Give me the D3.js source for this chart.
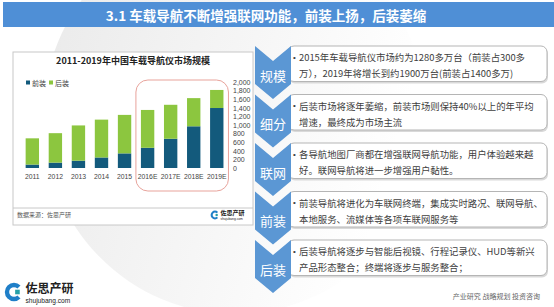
<!DOCTYPE html>
<html>
<head>
<meta charset="utf-8">
<script src="https://cdn.jsdelivr.net/npm/d3@7"></script>
<style>
  body { margin: 0; background: #fff; }
  svg { display: block; font-family: "Noto Sans CJK SC", "Noto Sans", sans-serif; }
</style>
</head>
<body>
<div id="chart"></div>
<script>
// chart data
var years = ["2011", "2012", "2013", "2014", "2015", "2016E", "2017E", "2018E", "2019E"];
var frontValues = [80, 125, 170, 245, 340, 470, 680, 970, 1395];
var backValues = [610, 685, 820, 880, 895, 880, 790, 655, 420];
var yTicks = [0, 200, 400, 600, 800, 1000, 1200, 1400, 1600, 1800, 2000];
var seriesNames = ["前装", "后装"];

// right side text
var sideLabels = ["规模", "细分", "联网", "前装", "后装"];
var sideLines = [
  ["2015年车载导航仪市场约为1280多万台（前装占300多", "万），2019年将增长到约1900万台(前装占1400多万)"],
  ["后装市场将逐年萎缩，前装市场则保持40%以上的年平均", "增速，最终成为市场主流"],
  ["各导航地图厂商都在增强联网导航功能，用户体验越来越", "好。联网导航将进一步增强用户黏性。"],
  ["前装导航将进化为车联网终端，集成实时路况、联网导航、", "本地服务、流媒体等各项车联网服务等"],
  ["后装导航将逐步与智能后视镜、行程记录仪、HUD等新兴", "产品形态整合；终端将逐步与服务整合；"]
];

var svgWidth = 554;
var svgHeight = 307;
var frontColor = "#135a7c";
var backColor = "#8cc63f";
var blue = "#5b97d4";

var svg = d3.select("#chart")
  .append("svg")
  .attr("width", svgWidth)
  .attr("height", svgHeight);

// background swoosh
var defs = svg.append("defs");
var grad = defs.append("linearGradient")
  .attr("id", "swoosh")
  .attr("x1", "0").attr("y1", "0").attr("x2", "1").attr("y2", "0.3");
grad.append("stop").attr("offset", "0").attr("stop-color", "#e9e9e9");
grad.append("stop").attr("offset", "1").attr("stop-color", "#ffffff");

svg.append("ellipse")
  .attr("cx", 235).attr("cy", 118)
  .attr("rx", 192).attr("ry", 196)
  .attr("fill", "url(#swoosh)");

// title banner
svg.append("rect")
  .attr("x", 3).attr("y", 2)
  .attr("width", svgWidth - 3).attr("height", 25)
  .attr("fill", "#4f8fd6");

svg.append("text")
  .attr("x", 266).attr("y", 15)
  .attr("text-anchor", "middle")
  .attr("dominant-baseline", "central")
  .attr("fill", "#fff")
  .attr("font-size", 13.5)
  .attr("font-weight", "bold")
  .text("3.1 车载导航不断增强联网功能，前装上扬，后装萎缩");

// chart panel
svg.append("rect")
  .attr("x", 13).attr("y", 52)
  .attr("width", 240).attr("height", 173)
  .attr("fill", "#fff")
  .attr("stroke", "#c8c8c8")
  .attr("stroke-width", 1);

svg.append("line")
  .attr("x1", 13).attr("x2", 253)
  .attr("y1", 208).attr("y2", 208)
  .attr("stroke", "#c8c8c8");

svg.append("text")
  .attr("x", 133).attr("y", 60)
  .attr("text-anchor", "middle")
  .attr("dominant-baseline", "central")
  .attr("font-size", 9)
  .attr("font-weight", "bold")
  .attr("fill", "#222")
  .text("2011-2019年中国车载导航仪市场规模");

svg.append("text")
  .attr("x", 17).attr("y", 214)
  .attr("dominant-baseline", "central")
  .attr("font-size", 6)
  .attr("fill", "#555")
  .text("数据来源：佐思产研");

// scales
var xScale = d3.scaleBand()
  .domain(years)
  .range([20.8, 228.3])
  .paddingInner(0.42)
  .paddingOuter(0.21);

var yScale = d3.scaleLinear()
  .domain([0, 2000])
  .range([168, 82]);

// highlight of forecast years
svg.append("rect")
  .attr("x", xScale("2016E") - 5)
  .attr("y", 80)
  .attr("width", xScale("2019E") + xScale.bandwidth() + 5 - (xScale("2016E") - 5))
  .attr("height", 111)
  .attr("rx", 12)
  .attr("fill", "none")
  .attr("stroke", "#e8a39b")
  .attr("stroke-width", 1);

// stacked bars
var stackData = years.map((y, i) => ({year: y, front: frontValues[i], back: backValues[i]}));
var stacked = d3.stack().keys(["front", "back"])(stackData);
var colors = [frontColor, backColor];

svg.append("g")
  .selectAll("g")
  .data(stacked)
  .enter()
  .append("g")
  .attr("fill", (d, i) => colors[i])
  .selectAll("rect")
  .data(d => d)
  .enter()
  .append("rect")
  .attr("x", d => xScale(d.data.year))
  .attr("y", d => yScale(d[1]))
  .attr("width", xScale.bandwidth())
  .attr("height", d => yScale(d[0]) - yScale(d[1]));

// axes
var bottomAxis = d3.axisBottom(xScale).tickSize(0).tickPadding(6);
var xAxis = svg.append("g")
  .attr("transform", "translate(0, 168)")
  .call(bottomAxis);
xAxis.select(".domain").remove();
xAxis.selectAll("text")
  .attr("font-size", 6.8)
  .attr("fill", "#444")
  .attr("font-family", "'Liberation Sans', sans-serif");

var rightAxis = d3.axisRight(yScale)
  .tickValues(yTicks)
  .tickSize(0)
  .tickPadding(3)
  .tickFormat(d3.format(","));
var yAxis = svg.append("g")
  .attr("transform", "translate(230, 0)")
  .call(rightAxis);
yAxis.select(".domain").remove();
yAxis.selectAll("text")
  .attr("font-size", 7)
  .attr("fill", "#444")
  .attr("font-family", "'Liberation Sans', sans-serif");

// legend
var legend = svg.append("g")
  .selectAll("g")
  .data(seriesNames)
  .enter()
  .append("g")
  .attr("transform", (d, i) => `translate(${26 + i * 23}, 83)`);
legend.append("rect")
  .attr("x", 0).attr("y", -2.5)
  .attr("width", 4).attr("height", 4)
  .attr("fill", (d, i) => colors[i]);
legend.append("text")
  .attr("x", 6)
  .attr("dominant-baseline", "central")
  .attr("font-size", 7)
  .attr("fill", "#444")
  .text(d => d);

// logo helper
function drawLogo(g, x, y, s, big) {
  var arc = d3.arc()
    .innerRadius(4.2 * s).outerRadius(8 * s)
    .startAngle(0.25 * Math.PI).endAngle(1.75 * Math.PI);
  g.append("path")
    .attr("transform", `translate(${x}, ${y}) rotate(90)`)
    .attr("d", arc())
    .attr("fill", "#1f7fc8");
  g.append("rect")
    .attr("x", x + 1 * s).attr("y", y - 2 * s)
    .attr("width", 4 * s).attr("height", 4 * s)
    .attr("fill", "#25a0a8");
  g.append("text")
    .attr("x", x + 10 * s).attr("y", y - 4.2 * s)
    .attr("dominant-baseline", "central")
    .attr("font-size", big)
    .attr("font-weight", "bold")
    .attr("fill", "#222")
    .text("佐思产研");
  g.append("text")
    .attr("x", x + 10 * s).attr("y", y + 7 * s)
    .attr("dominant-baseline", "central")
    .attr("font-size", big * 0.55)
    .attr("fill", "#222")
    .attr("font-family", "'Liberation Sans', sans-serif")
    .text("shujubang.com");
}
drawLogo(svg.append("g"), 215, 215, 0.55, 6);
drawLogo(svg.append("g"), 14, 292, 1.15, 12);

// footer
svg.append("text")
  .attr("x", 540).attr("y", 296)
  .attr("text-anchor", "end")
  .attr("dominant-baseline", "central")
  .attr("font-size", 7)
  .attr("fill", "#666")
  .text("产业研究  战略规划  投资咨询");

// right side boxes and chevrons
var rowStep = 48.5;
var rows = svg.append("g")
  .selectAll("g")
  .data(sideLabels)
  .enter()
  .append("g")
  .attr("transform", (d, i) => `translate(0, ${46 + i * rowStep})`);

rows.append("rect")
  .attr("x", 289).attr("y", 1.5)
  .attr("width", 259).attr("height", 36)
  .attr("rx", 6)
  .attr("fill", "#d9d9d9");

rows.append("rect")
  .attr("x", 288).attr("y", 0)
  .attr("width", 259).attr("height", 35.5)
  .attr("rx", 6)
  .attr("fill", "#fff")
  .attr("stroke", "#b5b5b5")
  .attr("stroke-width", 1);

rows.append("path")
  .attr("d", "M255,0 L273,15 L291,0 L291,38 L273,53 L255,38 Z")
  .attr("fill", blue);

rows.append("text")
  .attr("x", 273).attr("y", 29)
  .attr("text-anchor", "middle")
  .attr("dominant-baseline", "central")
  .attr("font-size", 13)
  .attr("fill", "#fff")
  .text(d => d);

rows.append("text")
  .attr("x", 293).attr("y", 11)
  .attr("dominant-baseline", "central")
  .attr("font-size", 8)
  .attr("font-family", "'Liberation Sans', sans-serif")
  .attr("fill", "#404040")
  .text("•");

rows.each(function(d, i) {
  d3.select(this).selectAll("text.line")
    .data(sideLines[i])
    .enter()
    .append("text")
    .attr("class", "line")
    .attr("x", 299)
    .attr("y", (t, j) => 11 + j * 16)
    .attr("dominant-baseline", "central")
    .attr("font-size", 9.4)
    .attr("fill", "#404040")
    .text(t => t);
});
</script>
</body>
</html>
